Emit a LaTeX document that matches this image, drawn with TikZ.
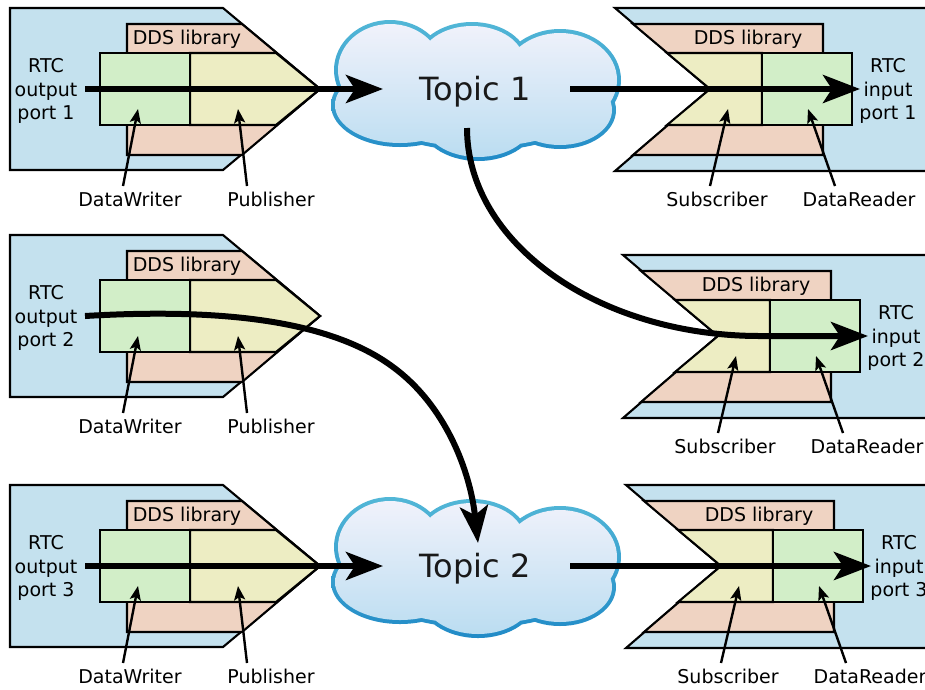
\documentclass[tikz,border=0pt]{standalone}
\usepackage{fontspec}
\setmainfont{DejaVu Sans}
\usetikzlibrary{arrows.meta}

\definecolor{portblue}{RGB}{196,225,238}
\definecolor{libpink}{RGB}{239,211,194}
\definecolor{writergreen}{RGB}{210,238,200}
\definecolor{pubyellow}{RGB}{237,237,195}
\definecolor{edgetop}{RGB}{86,186,216}
\definecolor{edgebottom}{RGB}{30,136,198}
\definecolor{cloudtop}{RGB}{246,244,252}
\definecolor{cloudbottom}{RGB}{182,219,240}

\tikzset{
  boxline/.style={draw=black, line width=2.1pt},
  lbl/.style={font=\fontsize{19}{23.5}\selectfont, inner sep=0pt},
  topic/.style={font=\fontsize{32}{36}\selectfont, text=black!90, inner sep=0pt, anchor=base},
  flow/.style={line width=6pt, -{Stealth[length=37pt, width=28pt, inset=9pt]}},
  ptr/.style={line width=2.4pt, -{Stealth[length=14pt, width=11pt, inset=3pt]}},
  % publishing side: RTC output port with DataWriter and Publisher
  pics/pubblock/.style={code={
    \draw[boxline, fill=portblue] (10,8) -- (223,8) -- (320,89) -- (223,170) -- (10,170) -- cycle;
    \draw[boxline, fill=libpink] (127,24) -- (242,24) -- (320,89) -- (242,155) -- (127,155) -- cycle;
    \draw[boxline, fill=pubyellow] (190,53) -- (276,53) -- (320,89) -- (276,125) -- (190,125) -- cycle;
    \draw[boxline, fill=writergreen] (100,53) rectangle (190,125);
    \node[lbl, anchor=base] (-lib) at (187,44) {DDS library};
    \node[lbl, align=center] (-port) at (46,91) {RTC\\output\\port #1};
    \node[lbl, anchor=base] (-dw) at (130,206) {DataWriter};
    \node[lbl, anchor=base] (-pub) at (271,206) {Publisher};
    \coordinate (-out) at (85,89);
    \coordinate (-dwfoot) at (123,186);
    \coordinate (-dwhead) at (138,109);
    \coordinate (-pubfoot) at (247,186);
    \coordinate (-pubhead) at (238,109);
    \draw[ptr] (-dwfoot) -- (-dwhead);
    \draw[ptr] (-pubfoot) -- (-pubhead);
  }},
  % subscribing side: RTC input port with Subscriber and DataReader
  pics/subblock/.style={code={
    \draw[boxline, fill=portblue] (710,89) -- (615,8) -- (945,8) -- (945,171) -- (615,171) -- cycle;
    \draw[boxline, fill=libpink] (710,89) -- (633,24) -- (823,24) -- (823,155) -- (633,155) -- cycle;
    \draw[boxline, fill=pubyellow] (710,89) -- (667,53) -- (762,53) -- (762,125) -- (667,125) -- cycle;
    \draw[boxline, fill=writergreen] (762,53) rectangle (852,125);
    \node[lbl, anchor=base] (-lib) at (748,44) {DDS library};
    \node[lbl, align=center] (-port) at (888,91) {RTC\\input\\port #1};
    \node[lbl, anchor=base] (-sub) at (717,206) {Subscriber};
    \node[lbl, anchor=base] (-dr) at (859,206) {DataReader};
    \coordinate (-in) at (860,89);
    \coordinate (-subfoot) at (710,186);
    \coordinate (-subhead) at (728,109);
    \coordinate (-drfoot) at (835,186);
    \coordinate (-drhead) at (808,109);
    \draw[ptr] (-subfoot) -- (-subhead);
    \draw[ptr] (-drfoot) -- (-drhead);
  }},
  % topic cloud: union of overlapping ellipses, rim shaded first, body on top
  pics/topiccloud/.style={code={
    \begin{scope}
      \clip
        (390,70) ellipse [x radius=56pt, y radius=50pt]
        (472,62) ellipse [x radius=56pt, y radius=40pt]
        (560,80) ellipse [x radius=61pt, y radius=51pt]
        (560,110) ellipse [x radius=56pt, y radius=39pt]
        (478,120) ellipse [x radius=59pt, y radius=41pt]
        (400,105) ellipse [x radius=69pt, y radius=42pt]
        (478,100) ellipse [x radius=119pt, y radius=51pt];
      \shade[top color=edgetop, bottom color=edgebottom] (320,10) rectangle (630,170);
    \end{scope}
    \begin{scope}
      \clip
        (390,70) ellipse [x radius=52pt, y radius=46pt]
        (472,62) ellipse [x radius=52pt, y radius=36pt]
        (560,80) ellipse [x radius=57pt, y radius=47pt]
        (560,110) ellipse [x radius=52pt, y radius=35pt]
        (478,120) ellipse [x radius=55pt, y radius=37pt]
        (400,105) ellipse [x radius=65pt, y radius=38pt]
        (478,100) ellipse [x radius=115pt, y radius=47pt];
      \shade[top color=cloudtop, bottom color=cloudbottom] (320,10) rectangle (630,170);
    \end{scope}
    \node[topic] (-label) at (475,100) {#1};
    \coordinate (-in) at (383,89);
    \coordinate (-out) at (570,89);
    \coordinate (-down) at (467,128);
    \coordinate (-top) at (478,66);
  }}
}

\begin{document}
\begin{tikzpicture}[x=1pt, y=-1pt]
  \useasboundingbox (0,0) rectangle (925,689);
  \clip (0,0) rectangle (925,689);

  % writers
  \pic (L1) at (0,0) {pubblock=1};
  \pic (L2) at (0,227) {pubblock=2};
  \pic (L3) at (0,477) {pubblock=3};

  % readers
  \pic (R1) at (0,0) {subblock=1};
  \pic (R2) at (8,247) {subblock=2};
  \pic (R3) at (11,477) {subblock=3};

  % topics
  \pic (T1) at (0,0) {topiccloud={Topic 1}};
  \pic (T2) at (0,477) {topiccloud={Topic 2}};

  % data flow
  \draw[flow] (L1-out) -- (T1-in);
  \draw[flow] (T1-out) -- (R1-in);
  \draw[flow] (T1-down) .. controls (467,243) and (598,336) .. (760,336) -- (R2-in);
  \draw[flow] (L2-out) .. controls (220,308) and (330,320) .. (393,367)
                       .. controls (445,405) and (470,470) .. (T2-top);
  \draw[flow] (L3-out) -- (T2-in);
  \draw[flow] (T2-out) -- (R3-in);
\end{tikzpicture}
\end{document}
